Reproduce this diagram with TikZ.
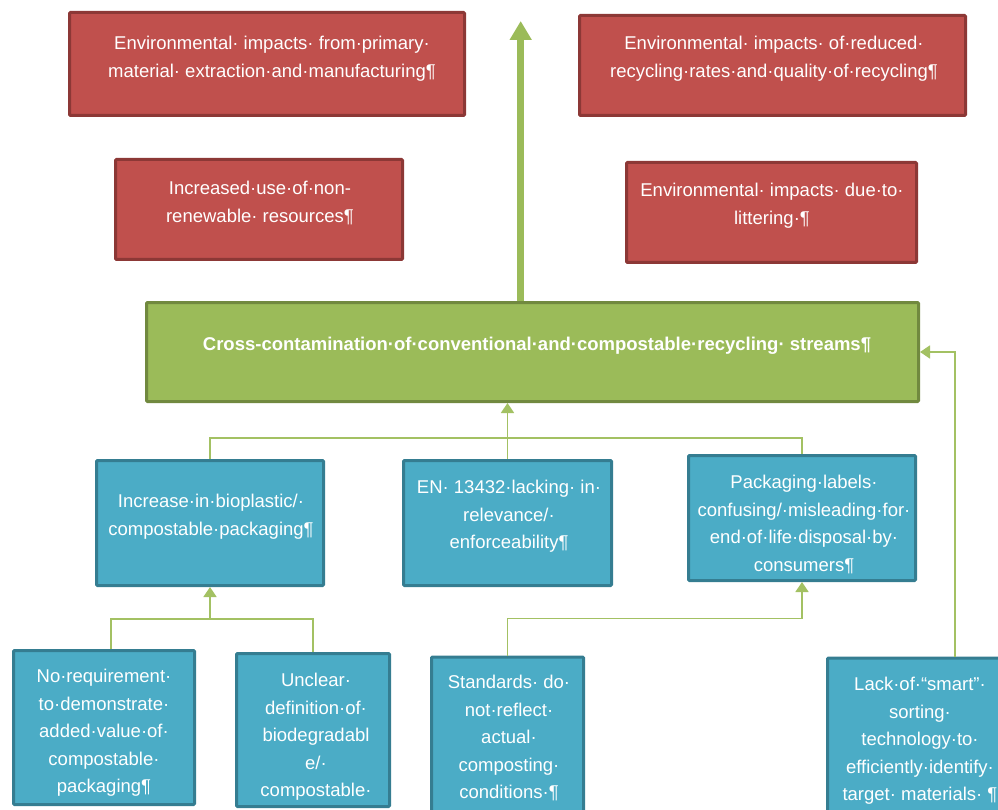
\documentclass[tikz,border=0pt]{standalone}
\usepackage{fontspec}
\setmainfont{Liberation Sans}
\usetikzlibrary{arrows.meta}
\definecolor{redfill}{HTML}{C0504D}
\definecolor{redline}{HTML}{8C3836}
\definecolor{greenfill}{HTML}{9BBB59}
\definecolor{greenline}{HTML}{71893F}
\definecolor{bluefill}{HTML}{4BACC6}
\definecolor{blueline}{HTML}{357D91}
\definecolor{conn}{HTML}{A3C163}
\begin{document}
\begin{tikzpicture}[x=1pt,y=-1pt,
  box/.style={line width=3pt, inner sep=0pt, rounded corners=1pt},
  redbox/.style={box, fill=redfill, draw=redline},
  greenbox/.style={box, fill=greenfill, draw=greenline},
  bluebox/.style={box, fill=bluefill, draw=blueline},
  txt/.style={text=white, align=center, anchor=north, inner sep=0pt,
    font=\fontsize{18.5}{27.5}\selectfont},
  conline/.style={draw=conn, line width=1.6pt},
  conarrow/.style={conline, -{Triangle[length=10pt,width=13pt]}},
  bigarrow/.style={draw=greenfill, line width=7pt, -{Triangle[length=19pt,width=21pt]}}
]
\useasboundingbox (0,0) rectangle (998,810);
\clip (0,0) rectangle (998,810);

% red effect boxes
\node[redbox, minimum width=395pt, minimum height=103pt] (r1) at (267,64) {};
\node[txt] (t1) at (272,43-12.65) {\strut Environmental· impacts· from·primary·\\material· extraction·and·manufacturing¶};

\node[redbox, minimum width=386pt, minimum height=100pt] (r2) at (772.5,65.5) {};
\node[txt] (t2) at (774,43-12.65) {\strut Environmental· impacts· of·reduced·\\recycling·rates·and·quality·of·recycling¶};

\node[redbox, minimum width=287pt, minimum height=100pt] (r3) at (259,209.5) {};
\node[txt] (t3) at (260,188-12.65) {\strut Increased·use·of·non-\\renewable· resources¶};

\node[redbox, minimum width=290pt, minimum height=100pt] (r4) at (771.5,212.5) {};
\node[txt] (t4) at (772,190-12.65) {\strut Environmental· impacts· due·to·\\littering·¶};

% green central box
\node[greenbox, minimum width=772pt, minimum height=99pt] (g) at (532.5,352) {};
\node[txt, font=\fontsize{18.5}{27.5}\selectfont\bfseries] (tg) at (537,344-12.65) {\strut Cross-contamination·of·conventional·and·compostable·recycling· streams¶};

% blue cause boxes, middle row
\node[bluebox, minimum width=227pt, minimum height=125pt] (a) at (210,523) {};
\node[txt] (ta) at (211,501-12.65) {\strut Increase·in·bioplastic/·\\compostable·packaging¶};

\node[bluebox, minimum width=208pt, minimum height=125pt] (b) at (507.5,523) {};
\node[txt] (tb) at (509,487-12.65) {\strut EN· 13432·lacking· in·\\relevance/·\\enforceability¶};

\node[bluebox, minimum width=227pt, minimum height=125pt] (c) at (802,518) {};
\node[txt] (tc) at (804,482-12.65) {\strut Packaging·labels·\\confusing/·misleading·for·\\end·of·life·disposal·by·\\consumers¶};

% blue cause boxes, bottom row
\node[bluebox, minimum width=181pt, minimum height=154pt] (d) at (104,727.5) {};
\node[txt] (td) at (104,676-12.65) {\strut No·requirement·\\to·demonstrate·\\added·value·of·\\compostable·\\packaging¶};

\node[bluebox, minimum width=153pt, minimum height=153pt] (e) at (313,730) {};
\node[txt] (te) at (316,680-12.65) {\strut Unclear·\\definition·of·\\biodegradabl\\e/·\\compostable·};

\node[bluebox, minimum width=152pt, minimum height=160pt] (f) at (507.5,737) {};
\node[txt] (tf) at (509,682-12.65) {\strut Standards· do·\\not·reflect·\\actual·\\composting·\\conditions·¶};

\node[bluebox, minimum width=185pt, minimum height=160pt] (h) at (920,738) {};
\node[txt] (th) at (920,684-12.65) {\strut Lack·of·“smart”·\\sorting·\\technology·to·\\efficiently·identify·\\target· materials· ¶};

% big arrow up from the central box
\coordinate (topend) at (520.7,21);
\draw[bigarrow] ([xshift=-11.8pt]g.north) -- (topend);

% connectors into the central box
\draw[conline] (a.north) -- ++(0,-21) -| (c.north);
\draw[conarrow] (b.north) -- (b.north |- g.south);
\draw[conarrow] ([xshift=35pt]h.north) |- (g.east);

% connectors into box a
\coordinate (j1) at (a.south |- 0,619);
\draw[conline] ([xshift=7pt]d.north) |- (j1) -| (e.north);
\draw[conarrow] (j1) -- (a.south);

% connector into box c
\draw[conarrow] (f.north) -- ++(0,-37) -| (c.south);
\end{tikzpicture}
\end{document}
